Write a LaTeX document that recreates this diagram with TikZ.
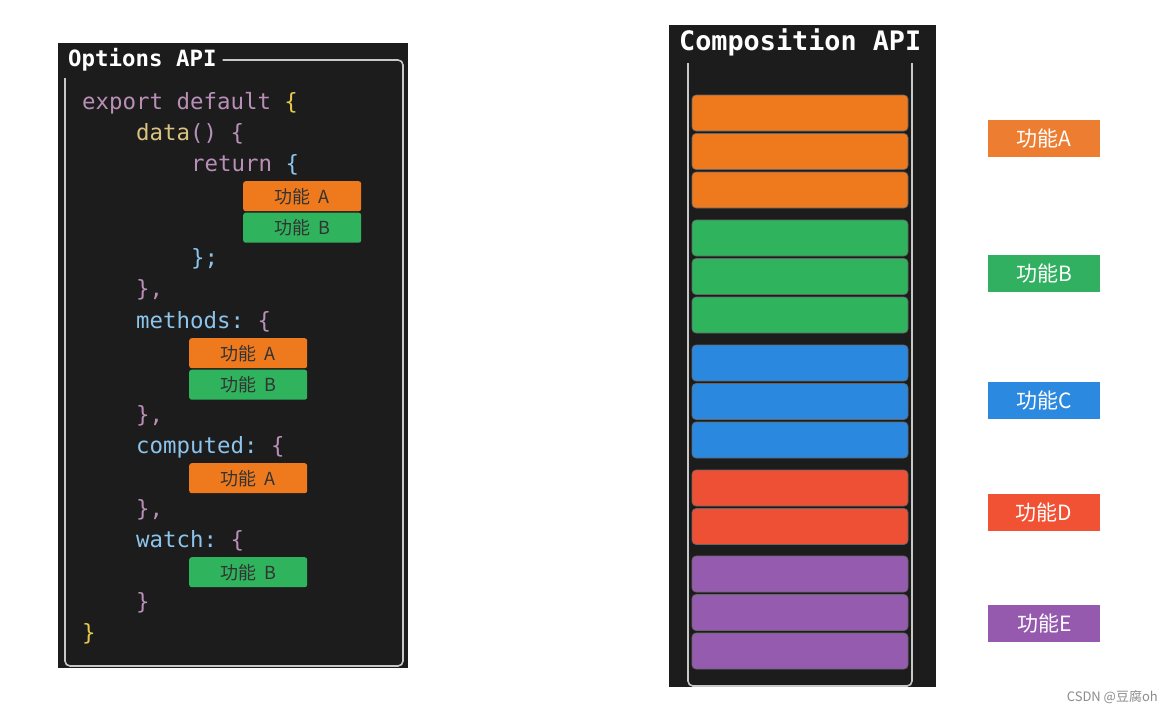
\documentclass[tikz,border=0pt]{standalone}
\usepackage{fontspec}
\setmonofont{DejaVu Sans Mono}
\newfontfamily\cjk{Noto Sans CJK SC}
\definecolor{bgdark}{HTML}{1C1C1C}
\definecolor{framec}{HTML}{C8C8C8}
\definecolor{kwc}{HTML}{B98FB8}
\definecolor{yelc}{HTML}{E6C84A}
\definecolor{tanc}{HTML}{D9C37F}
\definecolor{bluc}{HTML}{8CC4EC}
\definecolor{oc}{HTML}{EF7A1E}
\definecolor{gc}{HTML}{2FB35D}
\definecolor{bc}{HTML}{2A88DE}
\definecolor{rc}{HTML}{EE5035}
\definecolor{pc}{HTML}{955BAE}
\definecolor{la}{HTML}{ED7D31}
\definecolor{lb}{HTML}{30B060}
\definecolor{lc}{HTML}{2B89E0}
\definecolor{ld}{HTML}{F05233}
\definecolor{le}{HTML}{955AAE}
\tikzset{
  code/.style={anchor=west, inner sep=0pt, font=\ttfamily\fontsize{22.4}{22.4}\selectfont},
  fbox/.style={draw=none, rounded corners=2.5pt, minimum width=118pt, minimum height=30pt, inner sep=0pt, anchor=north west, font=\cjk\fontsize{18}{18}\selectfont, text=black!80},
  bar/.style={rounded corners=4pt, draw=black!60, line width=0.6pt},
  lbl/.style={minimum width=112pt, minimum height=37pt, inner sep=0pt, anchor=north west, font=\cjk\fontsize{21}{21}\selectfont, text=white},
  frm/.style={draw=framec, line width=1.6pt, rounded corners=5pt},
  ttl/.style={inner sep=0pt, text=white, font=\ttfamily\bfseries}
}
\begin{document}
\begin{tikzpicture}[x=1pt,y=-1pt]
\useasboundingbox (0,0) rectangle (1172,713);
\fill[white] (0,0) rectangle (1172,713);
% left panel
\fill[bgdark] (58,43) rectangle (408,668);
\node[ttl, anchor=west, font=\ttfamily\bfseries\fontsize{22.4}{22.4}\selectfont] (t1) at (68,60) {Options API};
\draw[frm] (t1.east) ++(6pt,0) coordinate (f1s) -- (403,60) -- (403,666) -- (65,666) -- (65,78);
\node[code] (l1) at (82,103) {\textcolor{kwc}{export default }\textcolor{yelc}{\{}};
\node[code] (l2) at (136,134) {\textcolor{tanc}{data}\textcolor{kwc}{() \{}};
\node[code] (l3) at (191,165) {\textcolor{kwc}{return }\textcolor{bluc}{\{}};
\node[fbox, fill=oc] (d1) at (243,181) {功能\ \ A};
\node[fbox, fill=gc] (d2) at (243,212.5) {功能\ \ B};
\node[code] (l4) at (191,259) {\textcolor{bluc}{\};}};
\node[code] (l5) at (136,290) {\textcolor{kwc}{\},}};
\node[code] (l6) at (136,322) {\textcolor{bluc}{methods: }\textcolor{kwc}{\{}};
\node[fbox, fill=oc] (m1) at (189,338) {功能\ \ A};
\node[fbox, fill=gc] (m2) at (189,369.5) {功能\ \ B};
\node[code] (l7) at (136,416) {\textcolor{kwc}{\},}};
\node[code] (l8) at (136,447) {\textcolor{bluc}{computed: }\textcolor{kwc}{\{}};
\node[fbox, fill=oc] (c1) at (189,463) {功能\ \ A};
\node[code] (l9) at (136,510) {\textcolor{kwc}{\},}};
\node[code] (l10) at (136,541) {\textcolor{bluc}{watch: }\textcolor{kwc}{\{}};
\node[fbox, fill=gc] (w1) at (189,557) {功能\ \ B};
\node[code] (l11) at (136,603) {\textcolor{kwc}{\}}};
\node[code] (l12) at (82,634) {\textcolor{yelc}{\}}};
% right panel
\fill[bgdark] (669,25) rectangle (936,687);
\node[ttl, anchor=west, font=\ttfamily\bfseries\fontsize{26.8}{26.8}\selectfont] (t2) at (679,42) {Composition API};
\draw[frm] (688,63) -- (688,686) -- (912,686) -- (912,63);
\foreach \y/\c/\n in {95/oc/a1,133.5/oc/a2,172/oc/a3,220/gc/b1,258.5/gc/b2,297/gc/b3,345/bc/c1,383.5/bc/c2,422/bc/c3,470/rc/d1,508.5/rc/d2,556/pc/e1,594.5/pc/e2,633/pc/e3}
  \filldraw[bar, fill=\c] (692,\y) rectangle (908,\y+36);
% right labels
\node[lbl, fill=la] (A) at (988,120) {功能A};
\node[lbl, fill=lb] (B) at (988,255) {功能B};
\node[lbl, fill=lc] (C) at (988,382) {功能C};
\node[lbl, fill=ld] (D) at (988,494) {功能D};
\node[lbl, fill=le] (E) at (988,605) {功能E};
\node[anchor=east, inner sep=0pt, text=black!45, font=\cjk\fontsize{13}{13}\selectfont] (wm) at (1158,697) {CSDN @豆腐oh};
\end{tikzpicture}
\end{document}
